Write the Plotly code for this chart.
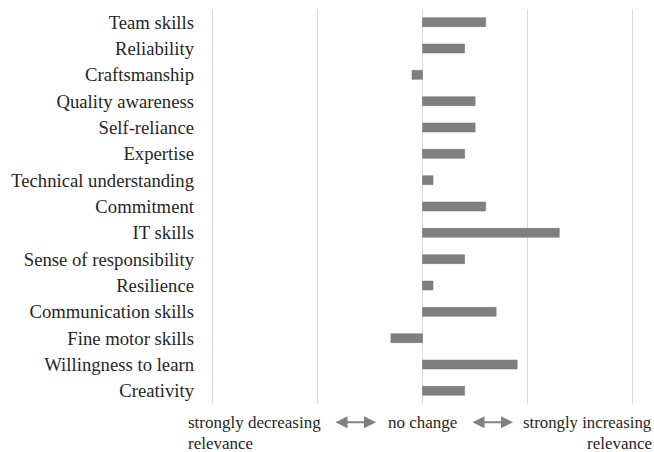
import plotly.graph_objects as go

skills = ["Team skills", "Reliability", "Craftsmanship", "Quality awareness", "Self-reliance",
          "Expertise", "Technical understanding", "Commitment", "IT skills",
          "Sense of responsibility", "Resilience", "Communication skills",
          "Fine motor skills", "Willingness to learn", "Creativity"]
relevance_change = [0.6, 0.4, -0.1, 0.5, 0.5, 0.4, 0.1, 0.6, 1.3, 0.4, 0.1, 0.7, -0.3, 0.9, 0.4]
x_ticks = [-2, -1, 0, 1, 2]

FONT = "Liberation Serif, Times New Roman, serif"
TXT = "#262626"

fig = go.Figure(go.Bar(
    y=skills, x=relevance_change, orientation="h",
    marker=dict(color="#7f7f7f", line=dict(color="#6e6e6e", width=0.5)),
    width=0.34,
))

fig.update_layout(
    width=654, height=452,
    margin=dict(l=211, r=20, t=9, b=48),
    paper_bgcolor="white", plot_bgcolor="white",
    showlegend=False,
    font=dict(family=FONT, size=18.7, color=TXT),
    xaxis=dict(range=[-2.01, 2.01], tickvals=x_ticks, showticklabels=False,
               showgrid=True, gridcolor="#d9d9d9", gridwidth=1.3,
               zeroline=False, showline=False, fixedrange=True),
    yaxis=dict(autorange="reversed", showgrid=False, showline=False, zeroline=False,
               ticks="", ticklabelstandoff=16, tickfont=dict(size=18.7, family=FONT, color=TXT)),
)

ann_font = dict(family=FONT, size=17, color=TXT)
fig.add_annotation(xref="paper", yref="paper", x=-0.059, y=-0.048, xanchor="left", yanchor="middle",
                   text="strongly decreasing", showarrow=False, font=ann_font)
fig.add_annotation(xref="paper", yref="paper", x=-0.059, y=-0.099, xanchor="left", yanchor="middle",
                   text="relevance", showarrow=False, font=ann_font)
fig.add_annotation(xref="paper", yref="paper", x=0.5, y=-0.048, xanchor="center", yanchor="middle",
                   text="no change", showarrow=False, font=ann_font)
fig.add_annotation(xref="paper", yref="paper", x=1.047, y=-0.048, xanchor="right", yanchor="middle",
                   text="strongly increasing", showarrow=False, font=dict(family=FONT, size=16.8, color=TXT))
fig.add_annotation(xref="paper", yref="paper", x=1.047, y=-0.099, xanchor="right", yanchor="middle",
                   text="relevance", showarrow=False, font=ann_font)

for x0, x1 in [(334, 376), (471, 513)]:
    fig.add_annotation(xref="paper", yref="paper", x=(x1 - 211) / 423, y=-0.046,
                       axref="pixel", ayref="pixel", ax=-(x1 - x0), ay=0,
                       text="", showarrow=True, arrowside="end+start",
                       arrowhead=2, arrowsize=1.2, arrowwidth=2, arrowcolor="#808080")

fig.write_html("out.html")
